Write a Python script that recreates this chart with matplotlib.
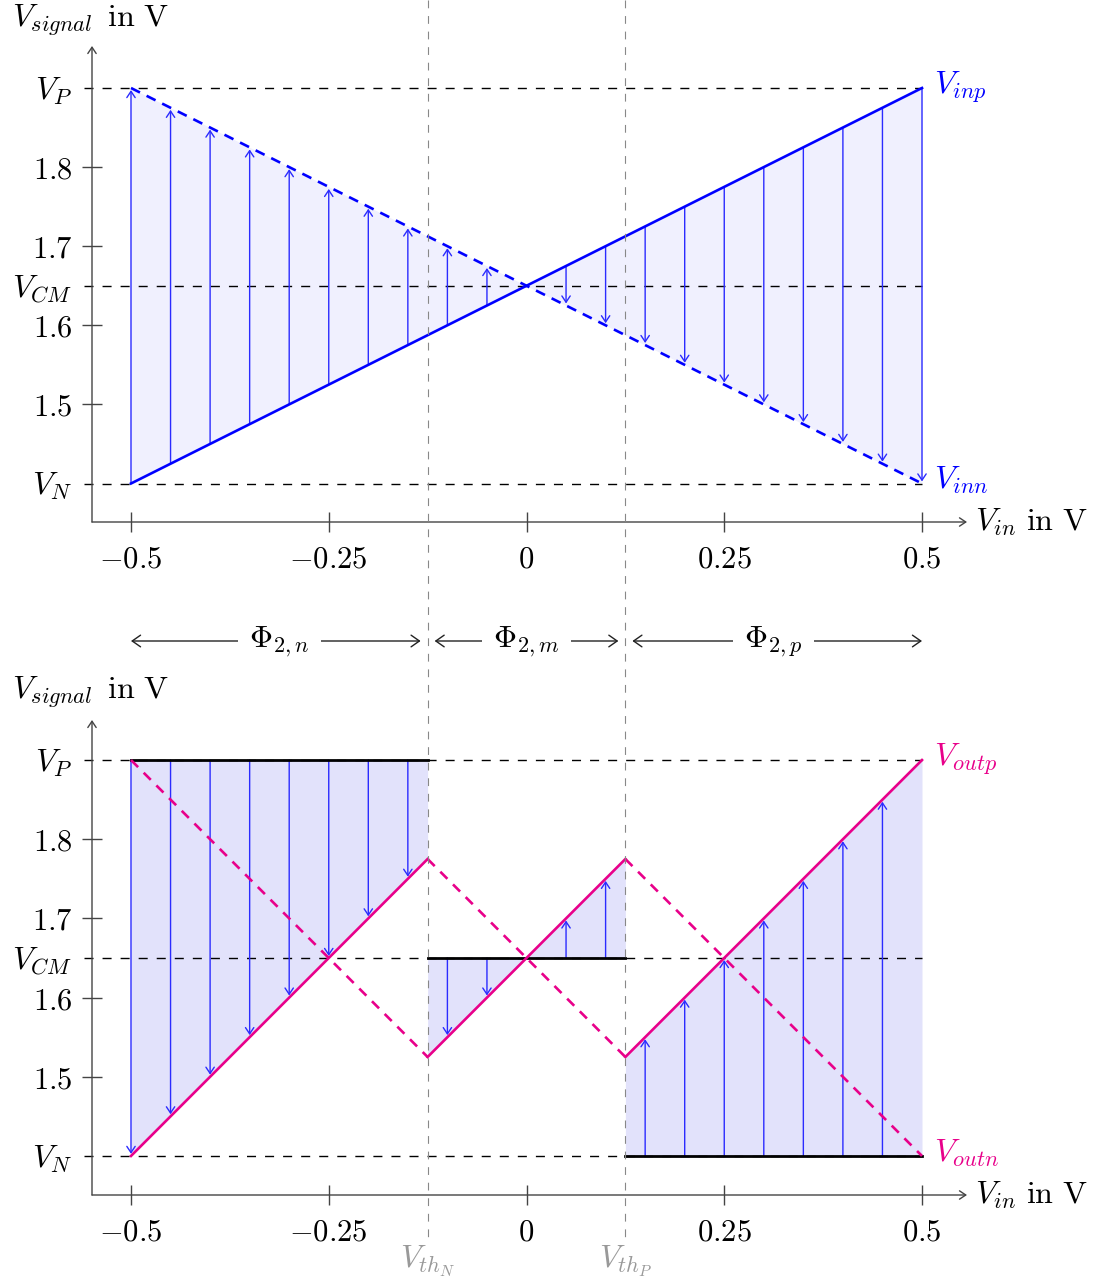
import numpy as np
import matplotlib.pyplot as plt
from matplotlib.transforms import blended_transform_factory
from matplotlib.lines import Line2D
from matplotlib.patches import FancyArrowPatch

plt.rcParams['mathtext.fontset'] = 'cm'

# differential input sweep
v_in = [-0.5, 0.5]
v_inp = [1.4, 1.9]
v_inn = [1.9, 1.4]

# outputs after phase 2, split at the two thresholds
v_th = [-0.125, 0.125]
v_out_x = [[-0.5, -0.125], [-0.125, 0.125], [0.125, 0.5]]
v_outp = [[1.4, 1.775], [1.525, 1.775], [1.525, 1.9]]
v_outn = [[1.9, 1.525], [1.775, 1.525], [1.775, 1.4]]
v_ref = [1.9, 1.65, 1.4]

levels = [1.9, 1.65, 1.4]
level_labels = [r'$V_P$', r'$V_{CM}$', r'$V_N$']

arrows_top = [-0.5, -0.45, -0.4, -0.35, -0.3, -0.25, -0.2, -0.15, -0.1, -0.05,
              0.05, 0.1, 0.15, 0.2, 0.25, 0.3, 0.35, 0.4, 0.45, 0.5]
arrows_bot = [[-0.5, -0.45, -0.4, -0.35, -0.3, -0.25, -0.2, -0.15],
              [-0.1, -0.05, 0.05, 0.1],
              [0.15, 0.2, 0.25, 0.3, 0.35, 0.4, 0.45]]

x_ticks = [-0.5, -0.25, 0, 0.25, 0.5]
x_tick_labels = [r'$-0.5$', r'$-0.25$', r'$0$', r'$0.25$', r'$0.5$']
y_ticks = [1.5, 1.6, 1.7, 1.8]
y_tick_labels = [r'$1.5$', r'$1.6$', r'$1.7$', r'$1.8$']

phase_edges = [-0.5, -0.125, 0.125, 0.5]
phase_labels = [r'$\Phi_{2,n}$', r'$\Phi_{2,m}$', r'$\Phi_{2,p}$']
th_labels = [r'$V_{th_N}$', r'$V_{th_P}$']

BLUE = '#0000ff'
ARROW = '#2b2bff'
MAGENTA = '#e8008a'
AXIS = '#444444'
FS = 22     # numbers
FSV = 23    # symbol labels

W, H = 1096, 1281
S = 791.0  # pixels per volt
fig = plt.figure(figsize=(W / 100, H / 100), dpi=100)


def px_axes(left, top, right, bottom):
    return fig.add_axes([left / W, 1 - bottom / H, (right - left) / W, (bottom - top) / H])


def style_axes(ax):
    for s in ax.spines.values():
        s.set_visible(False)
    ax.set_xticks(x_ticks, x_tick_labels)
    ax.set_yticks(y_ticks, y_tick_labels)
    ax.tick_params(direction='inout', length=14, width=1, color=AXIS, labelsize=FS)
    ax.tick_params(axis='y', pad=7)
    ax.tick_params(axis='x', pad=9)
    ax.patch.set_visible(False)
    for xy in [(1, 0), (0, 1)]:
        ax.annotate('', xy=xy, xytext=(0, 0), xycoords='axes fraction',
                    arrowprops=dict(arrowstyle='->,head_length=0.45,head_width=0.3',
                                    color=AXIS, lw=1, shrinkA=0, shrinkB=0,
                                    mutation_scale=10))
    # reference levels
    for lvl, lab in zip(levels, level_labels):
        ax.plot([-0.5 - 47 / S, 0.5], [lvl, lvl], color='black', lw=1,
                ls=(0, (6.5, 6.5)), clip_on=False, zorder=1)
        ax.annotate(lab, xy=(-0.5 - 59 / S, lvl), xytext=(0, -8), textcoords='offset points',
                    ha='right', va='baseline', fontsize=FSV, annotation_clip=False)


def arrow(ax, x, y0, y1):
    ax.annotate('', xy=(x, y1), xytext=(x, y0),
                arrowprops=dict(arrowstyle='->,head_length=0.45,head_width=0.3',
                                color=ARROW, lw=1, shrinkA=0, shrinkB=1.5,
                                mutation_scale=10), zorder=2)


def line_label(ax, x, y, text, color):
    ax.annotate(text, xy=(x, y), xytext=(9, -4), textcoords='offset points',
                ha='left', va='baseline', fontsize=FSV, color=color, annotation_clip=False)


# ---- top: input signals ----
ax1 = px_axes(92, 46, 967, 522)
ax1.set_xlim(-0.5 - 39 / S, 0.5 + 45 / S)
ax1.set_ylim(1.9 - 434 / S, 1.9 + 42 / S)
style_axes(ax1)
ax1.fill_between(v_in, v_inp, v_inn, color='#f0f0fe', lw=0, zorder=0)
for x in arrows_top:
    arrow(ax1, x, np.interp(x, v_in, v_inp), np.interp(x, v_in, v_inn))
ax1.plot(v_in, v_inp, color=BLUE, lw=1.9, zorder=3, clip_on=False)
ax1.plot(v_in, v_inn, color=BLUE, lw=1.9, ls=(0, (3.8, 2.8)), zorder=3, clip_on=False)
line_label(ax1, v_in[1], v_inp[1], r'$V_{inp}$', BLUE)
line_label(ax1, v_in[1], v_inn[1], r'$V_{inn}$', BLUE)

# ---- bottom: outputs after phase 2 ----
ax2 = px_axes(92, 720, 967, 1195)
ax2.set_xlim(-0.5 - 39 / S, 0.5 + 45 / S)
ax2.set_ylim(1.4 - 39 / S, 1.9 + 40 / S)
style_axes(ax2)
for xs, yp, yn, ref, ax_pts in zip(v_out_x, v_outp, v_outn, v_ref, arrows_bot):
    ax2.fill_between(xs, [ref, ref], yp, color='#e2e2fb', lw=0, zorder=0)
    for x in ax_pts:
        arrow(ax2, x, ref, np.interp(x, xs, yp))
    ax2.plot(xs, [ref, ref], color='black', lw=2, zorder=3)
    ax2.plot(xs, yp, color=MAGENTA, lw=1.9, zorder=4, clip_on=False)
    ax2.plot(xs, yn, color=MAGENTA, lw=1.9, ls=(0, (3.8, 3.0)), zorder=4, clip_on=False)
line_label(ax2, v_out_x[2][1], v_outp[2][1], r'$V_{outp}$', MAGENTA)
line_label(ax2, v_out_x[2][1], v_outn[2][1], r'$V_{outn}$', MAGENTA)

# axis titles
for ytop, yax in [(20, 522), (692, 1195)]:
    fig.text(12 / W, 1 - ytop / H, r'$V_{signal}\ \,\mathrm{in\ V}$', ha='left', va='center',
             fontsize=FSV)
    fig.text(975 / W, 1 - yax / H, r'$V_{in}\ \mathrm{in\ V}$', ha='left', va='center',
             fontsize=FSV)

# threshold markers spanning both panels
tr = blended_transform_factory(ax1.transData, fig.transFigure)
for xt, lab in zip(v_th, th_labels):
    fig.add_artist(Line2D([xt, xt], [1, 1 - 1237 / H], transform=tr, color='#888888',
                          lw=0.8, ls=(0, (7, 7)), zorder=5))
    fig.text(xt, 1 - 1268 / H, lab, transform=tr, ha='center', va='baseline',
             fontsize=FSV, color='#999999')

# phase ranges
y_ph = 1 - 641 / H
gap = 7 / S
for i, lab in enumerate(phase_labels):
    x0 = phase_edges[i] + (gap if i > 0 else 0)
    x1 = phase_edges[i + 1] - (gap if i < 2 else 0)
    fig.add_artist(FancyArrowPatch(
        (x0, y_ph), (x1, y_ph), transform=tr,
        arrowstyle='<->,head_length=0.5,head_width=0.35', mutation_scale=12,
        color='#222222', lw=1, shrinkA=0, shrinkB=0))
    fig.text((phase_edges[i] + phase_edges[i + 1]) / 2, 1 - 647 / H, lab, transform=tr,
             ha='center', va='baseline', fontsize=FSV,
             bbox=dict(facecolor='white', edgecolor='none', pad=8))

fig.savefig('out.png', dpi=100)
